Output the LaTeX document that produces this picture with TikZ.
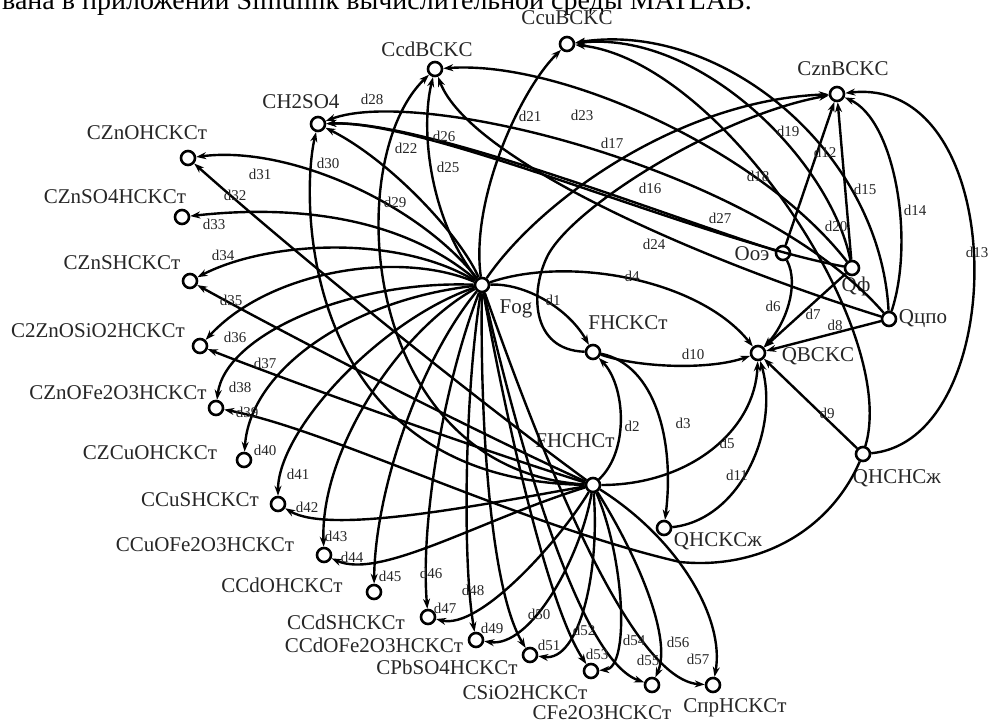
\documentclass[tikz,border=0pt]{standalone}
\usepackage{fontspec}
\setmainfont{Liberation Serif}
\usetikzlibrary{arrows.meta}
\begin{document}
\begin{tikzpicture}[x=1pt,y=-1pt,
  vtx/.style={circle,draw,line width=2.6pt,minimum size=14pt,inner sep=0pt,fill=white},
  lbl/.style={font=\fontsize{21}{23}\selectfont,inner sep=0pt,text=black!85},
  elbl/.style={font=\fontsize{15}{17}\selectfont,inner sep=0pt,text=black!85},
  edge/.style={line width=2.4pt,-{Stealth[length=10pt,width=7pt]}}]
\useasboundingbox (0,0) rectangle (989,723);
\node[anchor=base west,inner sep=0pt,font=\fontsize{28}{30}\selectfont] (head) at (2,9) {вана в приложении Simulink вычислительной среды MATLAB.};
% labels
\node[lbl] (lCcu) at (567,18) {CcuBCKC};
\node[lbl] (lCzn) at (843,69) {CznBCKC};
\node[lbl] (lCcd) at (427,49) {CcdBCKC};
\node[lbl] (lH2) at (301,102) {CH2SO4};
\node[lbl] (lA1) at (147,133) {CZnOHCKCт};
\node[lbl] (lA2) at (115,197) {CZnSO4HCKCт};
\node[lbl] (lA3) at (122,263) {CZnSHCKCт};
\node[lbl] (lA4) at (98,331) {C2ZnOSiO2HCKCт};
\node[lbl] (lA5) at (118,393) {CZnOFe2O3HCKCт};
\node[lbl] (lA6) at (150,453) {CZCuOHCKCт};
\node[lbl] (lA7) at (200,500) {CCuSHCKCт};
\node[lbl] (lA8) at (205,545) {CCuOFe2O3HCKCт};
\node[lbl] (lA9) at (282,585) {CCdOHCKCт};
\node[lbl] (lA10) at (346,622) {CCdSHCKCт};
\node[lbl] (lA11) at (374,645) {CCdOFe2O3HCKCт};
\node[lbl] (lA12) at (447,667) {CPbSO4HCKCт};
\node[lbl] (lA13) at (525,693) {CSiO2HCKCт};
\node[lbl] (lA14) at (602,713) {CFe2O3HCKCт};
\node[lbl] (lA15) at (735,708) {CпрHCKCт};
\node[lbl] (lQHK) at (718,541) {QHCKCж};
\node[lbl] (lQHH) at (897,478) {QHCHCж};
\node[lbl] (lFK) at (628,323) {FHCKCт};
\node[lbl] (lFH) at (575,441) {FHCHCт};
\node[lbl] (lFog) at (516,309) {Fog};
\node[lbl] (lQB) at (818,356) {QBCKC};
\node[lbl] (lOo) at (752,254) {Ooэ};
\node[lbl] (lQf) at (856,286) {Qф};
\node[lbl] (lQc) at (923,319) {Qцпо};
% vertices
\node[vtx] (Fog) at (482,285) {};
\node[vtx] (FK) at (593,352) {};
\node[vtx] (FH) at (593,485) {};
\node[vtx] (QB) at (758,353) {};
\node[vtx] (Oo) at (783,253) {};
\node[vtx] (Qf) at (852,268) {};
\node[vtx] (Qc) at (889,319) {};
\node[vtx] (QHH) at (863,454) {};
\node[vtx] (QHK) at (664,528) {};
\node[vtx] (Czn) at (837,94) {};
\node[vtx] (Ccu) at (567,44) {};
\node[vtx] (Ccd) at (435,69) {};
\node[vtx] (H2) at (318,124) {};
\node[vtx] (A1) at (188,158) {};
\node[vtx] (A2) at (182,217) {};
\node[vtx] (A3) at (190,281) {};
\node[vtx] (A4) at (200,346) {};
\node[vtx] (A5) at (216,408) {};
\node[vtx] (A6) at (244,460) {};
\node[vtx] (A7) at (278,504) {};
\node[vtx] (A8) at (324,555) {};
\node[vtx] (A9) at (374,592) {};
\node[vtx] (A10) at (428,617) {};
\node[vtx] (A11) at (476,640) {};
\node[vtx] (A12) at (530,655) {};
\node[vtx] (A13) at (591,671) {};
\node[vtx] (A14) at (652,685) {};
\node[vtx] (A15) at (713,685) {};
% QB group
\draw[edge] (Fog) .. controls (525,283) and (568,308) .. (FK);
\draw[edge] (FH) .. controls (630,450) and (625,385) .. (FK);
\draw[edge] (FK) .. controls (655,365) and (675,440) .. (QHK);
\draw[edge] (Fog) .. controls (570,255) and (700,280) .. (QB);
\draw[edge] (FH) .. controls (690,485) and (755,430) .. (QB);
\draw[edge] (Oo) .. controls (800,285) and (785,325) .. (QB);
\draw[edge] (Qf) -- (QB);
\draw[edge] (Qc) -- (QB);
\draw[edge] (QHH) -- (QB);
\draw[edge] (FK) .. controls (640,368) and (710,370) .. (QB);
\draw[edge] (QHK) .. controls (740,520) and (780,430) .. (QB);
% Czn group
\draw[edge] (Oo) -- (Czn);
\draw[edge] (QHH) .. controls (1012,440) and (1012,75) .. (Czn);
\draw[edge] (Qc) .. controls (915,240) and (895,120) .. (Czn);
\draw[edge] (Qf) -- (Czn);
\draw[edge] (FK) .. controls (530,350) and (530,290) .. (548,255) .. controls (575,205) and (720,115) .. (Czn);
\draw[edge] (Fog) .. controls (540,200) and (680,100) .. (Czn);
% Ccu group
\draw[edge] (QHH) .. controls (900,330) and (720,60) .. (Ccu);
\draw[edge] (Qc) .. controls (880,150) and (720,20) .. (Ccu);
\draw[edge] (Qf) .. controls (830,160) and (700,30) .. (Ccu);
\draw[edge] (Fog) .. controls (470,200) and (520,90) .. (Ccu);
% Ccd group
\draw[edge] (Fog) .. controls (430,220) and (420,130) .. (Ccd);
\draw[edge] (Qf) .. controls (760,150) and (560,60) .. (Ccd);
\draw[edge] (Qc) .. controls (700,260) and (470,160) .. (Ccd);
\draw[edge] (FH) .. controls (360,470) and (340,160) .. (Ccd);
% H2SO4 group
\draw[edge] (Fog) .. controls (460,235) and (390,160) .. (H2);
\draw[edge] (Oo) .. controls (650,210) and (420,120) .. (H2);
\draw[edge] (Qc) .. controls (760,170) and (420,85) .. (H2);
\draw[edge] (Qf) .. controls (700,240) and (430,120) .. (H2);
\draw[edge] (FH) .. controls (300,480) and (300,200) .. (H2);
% left nodes from Fog
\draw[edge] (Fog) .. controls (420,205) and (290,145) .. (A1);
\draw[edge] (Fog) .. controls (400,215) and (290,205) .. (A2);
\draw[edge] (Fog) .. controls (400,235) and (270,240) .. (A3);
\draw[edge] (Fog) .. controls (400,250) and (270,270) .. (A4);
\draw[edge] (Fog) .. controls (350,280) and (225,335) .. (A5);
\draw[edge] (Fog) .. controls (350,300) and (250,370) .. (A6);
\draw[edge] (Fog) .. controls (380,320) and (278,430) .. (A7);
\draw[edge] (Fog) .. controls (400,330) and (320,450) .. (A8);
\draw[edge] (Fog) .. controls (420,360) and (375,490) .. (A9);
\draw[edge] (Fog) .. controls (445,380) and (420,520) .. (A10);
\draw[edge] (Fog) .. controls (465,390) and (462,560) .. (A11);
\draw[edge] (Fog) .. controls (480,420) and (490,590) .. (A12);
\draw[edge] (Fog) .. controls (510,440) and (550,610) .. (A13);
\draw[edge] (Fog) .. controls (520,450) and (580,660) .. (A14);
\draw[edge] (Fog) .. controls (540,450) and (630,680) .. (A15);
% left nodes from FHCHCт
\draw[edge] (FH) .. controls (450,380) and (280,240) .. (A1);
\draw[edge] (FH) .. controls (450,420) and (260,320) .. (A3);
\draw[edge] (FH) .. controls (450,440) and (260,370) .. (A4);
\draw[edge] (QHH) .. controls (830,530) and (760,570) .. (680,562) .. controls (520,525) and (330,430) .. (A5);
\draw[edge] (FH) .. controls (480,505) and (330,535) .. (A7);
\draw[edge] (FH) .. controls (480,520) and (380,580) .. (A8);
\draw[edge] (FH) .. controls (560,540) and (480,630) .. (A10);
\draw[edge] (FH) .. controls (580,560) and (530,648) .. (A11);
\draw[edge] (FH) .. controls (600,570) and (580,662) .. (A12);
\draw[edge] (FH) .. controls (625,560) and (630,668) .. (A13);
\draw[edge] (FH) .. controls (640,560) and (672,640) .. (A14);
\draw[edge] (FH) .. controls (680,540) and (725,620) .. (A15);
% edge labels
\node[elbl] (d1) at (553,300) {d1};
\node[elbl] (d2) at (632,426) {d2};
\node[elbl] (d3) at (683,423) {d3};
\node[elbl] (d4) at (632,276) {d4};
\node[elbl] (d5) at (727,443) {d5};
\node[elbl] (d6) at (773,306) {d6};
\node[elbl] (d7) at (813,314) {d7};
\node[elbl] (d8) at (835,325) {d8};
\node[elbl] (d9) at (827,413) {d9};
\node[elbl] (d10) at (693,354) {d10};
\node[elbl] (d11) at (737,475) {d11};
\node[elbl] (d12) at (825,152) {d12};
\node[elbl] (d13) at (977,252) {d13};
\node[elbl] (d14) at (915,210) {d14};
\node[elbl] (d15) at (865,189) {d15};
\node[elbl] (d16) at (650,188) {d16};
\node[elbl] (d17) at (612,143) {d17};
\node[elbl] (d18) at (758,176) {d18};
\node[elbl] (d19) at (788,131) {d19};
\node[elbl] (d20) at (836,226) {d20};
\node[elbl] (d21) at (530,116) {d21};
\node[elbl] (d22) at (406,148) {d22};
\node[elbl] (d23) at (582,115) {d23};
\node[elbl] (d24) at (654,244) {d24};
\node[elbl] (d25) at (448,167) {d25};
\node[elbl] (d26) at (444,136) {d26};
\node[elbl] (d27) at (720,218) {d27};
\node[elbl] (d28) at (372,99) {d28};
\node[elbl] (d29) at (395,202) {d29};
\node[elbl] (d30) at (328,163) {d30};
\node[elbl] (d31) at (260,174) {d31};
\node[elbl] (d32) at (235,195) {d32};
\node[elbl] (d33) at (214,224) {d33};
\node[elbl] (d34) at (223,255) {d34};
\node[elbl] (d35) at (231,300) {d35};
\node[elbl] (d36) at (235,337) {d36};
\node[elbl] (d37) at (265,363) {d37};
\node[elbl] (d38) at (240,387) {d38};
\node[elbl] (d39) at (247,412) {d39};
\node[elbl] (d40) at (265,450) {d40};
\node[elbl] (d41) at (298,474) {d41};
\node[elbl] (d42) at (307,507) {d42};
\node[elbl] (d43) at (336,536) {d43};
\node[elbl] (d44) at (352,557) {d44};
\node[elbl] (d45) at (390,576) {d45};
\node[elbl] (d46) at (431,573) {d46};
\node[elbl] (d47) at (445,608) {d47};
\node[elbl] (d48) at (473,590) {d48};
\node[elbl] (d49) at (492,628) {d49};
\node[elbl] (d50) at (539,614) {d50};
\node[elbl] (d51) at (549,645) {d51};
\node[elbl] (d52) at (584,630) {d52};
\node[elbl] (d53) at (597,654) {d53};
\node[elbl] (d54) at (634,640) {d54};
\node[elbl] (d55) at (648,660) {d55};
\node[elbl] (d56) at (678,642) {d56};
\node[elbl] (d57) at (698,659) {d57};
\end{tikzpicture}
\end{document}
